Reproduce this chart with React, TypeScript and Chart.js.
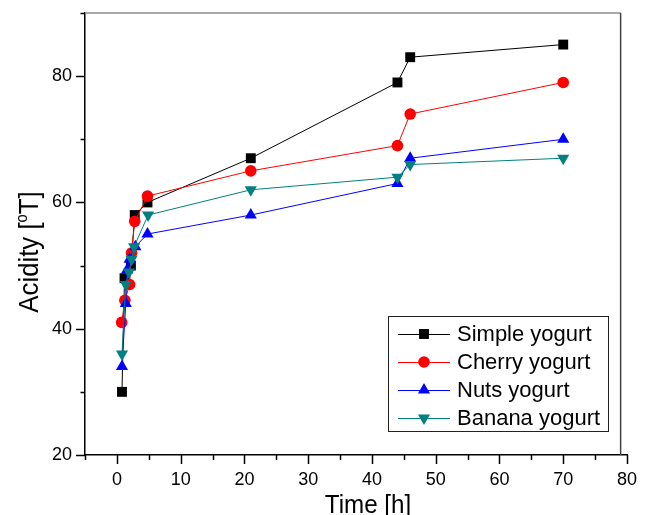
import React, { useEffect, useRef } from 'react';
import { Chart, registerables } from 'chart.js';
import { drawPoint } from 'chart.js/helpers';

Chart.register(...registerables);

// ---- data ----
const simpleTime = [0.8, 1.2, 2.2, 2.8, 4.8, 21, 44, 46, 70];
const simpleAcidity = [30, 48, 50, 58, 60, 67, 79, 83, 85];
const cherryTime = [0.75, 1.25, 2, 2.3, 2.8, 4.8, 21, 44, 46, 70];
const cherryAcidity = [41, 44.5, 47, 52, 57, 61, 65, 69, 74, 79];
const nutsTime = [0.8, 1.4, 1.6, 2, 2.9, 4.8, 21, 44, 46, 70];
const nutsAcidity = [34, 44, 49.3, 51, 53, 55, 58, 63, 67, 70];
const bananaTime = [0.8, 1.4, 1.9, 2.3, 2.7, 4.9, 21, 44, 46, 70];
const bananaAcidity = [36, 47, 49, 51, 53, 58, 62, 64, 66, 67];

const seriesNames = ['Simple yogurt', 'Cherry yogurt', 'Nuts yogurt', 'Banana yogurt'];
const seriesTimes = [simpleTime, cherryTime, nutsTime, bananaTime];
const seriesValues = [simpleAcidity, cherryAcidity, nutsAcidity, bananaAcidity];

const X_MIN = -5;
const X_MAX = 80;
const X_FRAME = 79;
const Y_MIN = 20;
const Y_MAX = 90;
const xTitle = 'Time [h]';
const yTitleMain = 'Acidity [';
const yTitleSup = 'o';
const yTitleEnd = 'T]';

// ---- styles ----
const colors = ['#000000', '#ff0000', '#0000ff', '#008080'];
const markers = ['rect', 'circle', 'triangle', 'triangle'];
const markerRot = [0, 0, 0, 180];
const markerRad = [7, 5.8, 7, 7];
const FONT = 'Liberation Sans, Arial, sans-serif';

const decorPlugin = {
  id: 'decor',
  afterDraw(chart: any) {
    const { ctx, chartArea: a, scales } = chart;
    const xs = scales.x;
    const ys = scales.y;
    ctx.save();
    // frame (top + right)
    const xr = xs.getPixelForValue(X_FRAME);
    ctx.lineWidth = 1.5;
    ctx.strokeStyle = '#8a8a8a';
    ctx.beginPath();
    ctx.moveTo(a.left, a.top);
    ctx.lineTo(xr, a.top);
    ctx.stroke();
    ctx.strokeStyle = '#444444';
    ctx.beginPath();
    ctx.moveTo(xr, a.top);
    ctx.lineTo(xr, a.bottom);
    ctx.stroke();

    // ticks (outward)
    ctx.strokeStyle = '#000';
    ctx.lineWidth = 1.5;
    ys.ticks.forEach((t: any) => {
      const p = Math.round(ys.getPixelForValue(t.value)) + 0.5;
      const len = t.value % 20 === 0 ? 9 : 4.5;
      ctx.beginPath();
      ctx.moveTo(a.left - len, p);
      ctx.lineTo(a.left, p);
      ctx.stroke();
    });
    xs.ticks.forEach((t: any) => {
      const p = Math.round(xs.getPixelForValue(t.value)) + 0.5;
      const len = t.value % 10 === 0 ? 9 : 5;
      ctx.beginPath();
      ctx.moveTo(p, a.bottom);
      ctx.lineTo(p, a.bottom + len);
      ctx.stroke();
    });

    // x title
    ctx.fillStyle = '#000';
    ctx.save();
    ctx.translate(a.left + 283, a.bottom + 58);
    ctx.scale(0.93, 1);
    ctx.font = `26px ${FONT}`;
    ctx.textAlign = 'center';
    ctx.textBaseline = 'alphabetic';
    ctx.fillText(xTitle, 0, 0);
    ctx.restore();

    // y title with superscript
    ctx.save();
    ctx.translate(a.left - 47, a.top + 239);
    ctx.rotate(-Math.PI / 2);
    ctx.scale(0.92, 1);
    ctx.textBaseline = 'alphabetic';
    ctx.textAlign = 'left';
    ctx.font = `28px ${FONT}`;
    const w1 = ctx.measureText(yTitleMain).width;
    const w3 = ctx.measureText(yTitleEnd).width;
    ctx.font = `16px ${FONT}`;
    const w2 = ctx.measureText(yTitleSup).width;
    let sx = -(w1 + w2 + w3) / 2;
    ctx.font = `28px ${FONT}`;
    ctx.fillText(yTitleMain, sx, 0);
    sx += w1;
    ctx.font = `16px ${FONT}`;
    ctx.fillText(yTitleSup, sx, -11);
    sx += w2;
    ctx.font = `28px ${FONT}`;
    ctx.fillText(yTitleEnd, sx, 0);
    ctx.restore();

    // legend box
    const bx = a.right - 239;
    const by = a.bottom - 139;
    const bw = 220;
    const bh = 115;
    ctx.fillStyle = '#ffffff';
    ctx.fillRect(bx, by, bw, bh);
    ctx.strokeStyle = '#222';
    ctx.lineWidth = 1;
    ctx.strokeRect(bx + 0.5, by + 0.5, bw, bh);
    chart.data.datasets.forEach((ds: any, i: number) => {
      const cy = by + 18 + i * 28;
      ctx.strokeStyle = ds.borderColor;
      ctx.lineWidth = 1;
      ctx.beginPath();
      ctx.moveTo(bx + 10, cy + 0.5);
      ctx.lineTo(bx + 62, cy + 0.5);
      ctx.stroke();
      ctx.fillStyle = ds.pointBackgroundColor;
      drawPoint(ctx, {
        pointStyle: ds.pointStyle,
        radius: ds.pointRadius,
        rotation: ds.pointRotation,
        borderWidth: 0,
      } as any, bx + 36, cy);
      ctx.fillStyle = '#000';
      ctx.font = `22px ${FONT}`;
      ctx.textAlign = 'left';
      ctx.textBaseline = 'middle';
      ctx.fillText(ds.label, bx + 69, cy + 1);
    });
    ctx.restore();
  },
};

export default function App() {
  const ref = useRef<HTMLCanvasElement | null>(null);
  useEffect(() => {
    if (!ref.current) return;
    const datasets = seriesNames.map((name, i) => ({
      label: name,
      data: seriesTimes[i].map((t, j) => ({ x: t, y: seriesValues[i][j] })),
      borderColor: colors[i],
      backgroundColor: colors[i],
      pointBackgroundColor: colors[i],
      pointBorderColor: colors[i],
      pointBorderWidth: 0,
      pointStyle: markers[i],
      pointRotation: markerRot[i],
      pointRadius: markerRad[i],
      borderWidth: 1,
      tension: 0,
      order: seriesNames.length - i,
    }));
    const chart = new Chart(ref.current, {
      type: 'line',
      data: { datasets },
      options: {
        animation: false,
        responsive: false,
        events: [],
        layout: { padding: { left: 0, top: 13, right: 23, bottom: 0 } },
        plugins: { legend: { display: false }, tooltip: { enabled: false } },
        scales: {
          x: {
            type: 'linear',
            min: X_MIN,
            max: X_MAX,
            afterFit: (s: any) => { s.height = 60; s.paddingLeft = 0; s.paddingRight = 0; },
            grid: { display: false, drawTicks: false },
            border: { display: true, color: '#000', width: 1.5 },
            ticks: {
              stepSize: 5,
              autoSkip: false,
              maxRotation: 0,
              padding: 14,
              color: '#000',
              font: { family: FONT, size: 18 },
              callback: (v: any) => (Number(v) % 10 === 0 ? String(v) : ''),
            },
          },
          y: {
            type: 'linear',
            min: Y_MIN,
            max: Y_MAX,
            afterFit: (s: any) => { s.width = 85; s.paddingTop = 0; s.paddingBottom = 0; },
            grid: { display: false, drawTicks: false },
            border: { display: true, color: '#000', width: 1.5 },
            ticks: {
              stepSize: 10,
              autoSkip: false,
              padding: 13,
              color: '#000',
              font: { family: FONT, size: 18 },
              callback: (v: any) => (Number(v) % 20 === 0 ? String(v) : ''),
            },
          },
        },
      },
      plugins: [decorPlugin],
    } as any);
    return () => chart.destroy();
  }, []);
  return (
    <div style={{ position: 'fixed', left: 0, top: 0, width: 650, height: 515, background: '#fff' }}>
      <canvas ref={ref} width={650} height={515} style={{ display: 'block' }} />
    </div>
  );
}
